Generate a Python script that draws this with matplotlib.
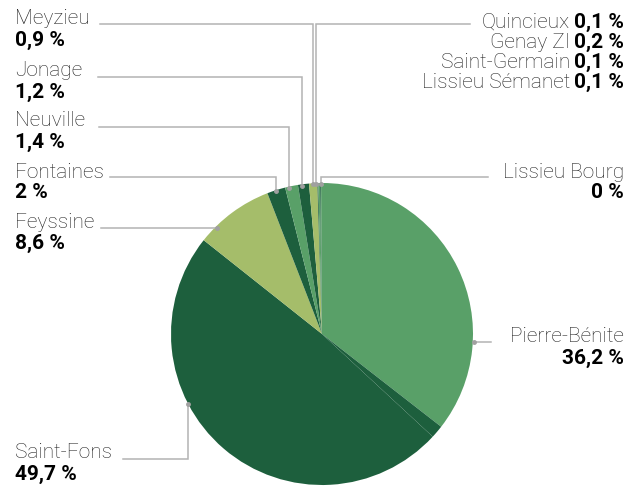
import matplotlib
matplotlib.use("Agg")
import matplotlib.pyplot as plt

plt.rcParams['font.family'] = ['Roboto', 'DejaVu Sans']

# parts (%), clockwise from the top
sites = ["Pierre-Bénite", "", "Saint-Fons", "Feyssine", "Fontaines", "Neuville",
         "Jonage", "Meyzieu", "Quincieux", "Genay ZI", "Saint-Germain",
         "Lissieu Sémanet", "Lissieu Bourg"]
parts = [36.2, 1.4, 49.7, 8.6, 2.0, 1.4, 1.2, 0.9, 0.1, 0.2, 0.1, 0.1, 0.0]
labels_pct = ["36,2 %", "", "49,7 %", "8,6 %", "2 %", "1,4 %", "1,2 %", "0,9 %",
              "0,1 %", "0,2 %", "0,1 %", "0,1 %", "0 %"]

MED = "#59a068"
DARK = "#1d5f3d"
LIGHT = "#a5bd6a"
slice_colors = [MED, DARK, DARK, LIGHT, DARK, MED, DARK, LIGHT, DARK, MED, DARK, MED, MED]

W, H = 640, 487
fig = plt.figure(figsize=(W / 100, H / 100), dpi=100)
ax = fig.add_axes([0, 0, 1, 1])

def py(y):
    # pixel row (from top) -> data y
    return H - y

cx, cy, r = 322, 334, 151
ax.pie(parts, colors=slice_colors, startangle=90, counterclock=False,
       center=(cx, py(cy)), radius=r, wedgeprops=dict(linewidth=0))
ax.set_xlim(0, W)
ax.set_ylim(0, H)
ax.set_aspect('auto')
ax.axis('off')

LINE = "#b3b3b3"
TXT = "#222222"

def leader(pts):
    xs = [p[0] for p in pts]
    ys = [py(p[1]) for p in pts]
    ax.plot(xs, ys, color=LINE, lw=1.1, solid_joinstyle='miter')
    ax.plot(xs[-1], ys[-1], 'o', color="#a0a0a0", ms=2.5)

FS = 15

# left labels: name, value, name-line y, leader path
left = [
    ("Meyzieu", "0,9 %", 19, [(100, 24), (313, 24), (313, 184)]),
    ("Jonage", "1,2 %", 71, [(98, 77), (302, 77), (302, 186)]),
    ("Neuville", "1,4 %", 121, [(99, 127), (289, 127), (289, 188)]),
    ("Fontaines", "2 %", 172, [(110, 177), (276, 177), (276, 191)]),
    ("Feyssine", "8,6 %", 222, [(101, 228), (217, 228)]),
    ("Saint-Fons", "49,7 %", 453, [(123, 459), (188, 459), (188, 404)]),
]
for name, val, yc, path in left:
    ax.text(15, py(yc), name, fontsize=FS, fontweight='light', color=TXT,
            ha='left', va='center')
    ax.text(15, py(yc + 21), val, fontsize=FS, fontweight='bold', color='black',
            ha='left', va='center')
    leader(path)

# right labels
XR = 624
ax.text(XR, py(336), "Pierre-Bénite", fontsize=FS, fontweight='light', color=TXT,
        ha='right', va='center')
ax.text(XR, py(358), "36,2 %", fontsize=FS, fontweight='bold', color='black',
        ha='right', va='center')
leader([(491, 342), (474, 342)])

ax.text(XR, py(172), "Lissieu Bourg", fontsize=FS, fontweight='light', color=TXT,
        ha='right', va='center')
ax.text(XR, py(192), "0 %", fontsize=FS, fontweight='bold', color='black',
        ha='right', va='center')
leader([(488, 177), (321, 177), (321, 184)])

leader([(470, 24), (316, 24), (316, 184)])

# stacked small sites, name + bold value on one line
fig.canvas.draw()
renderer = fig.canvas.get_renderer()
for i, (name, val) in enumerate(zip(sites[8:12], labels_pct[8:12])):
    yc = 22 + 20 * i
    t = ax.text(XR, py(yc), val, fontsize=FS, fontweight='bold', color='black',
                ha='right', va='center')
    bb = t.get_window_extent(renderer)
    ax.text(bb.x0 - 4, py(yc), name, fontsize=FS, fontweight='light', color=TXT,
            ha='right', va='center')

fig.savefig("out.png", dpi=100)
